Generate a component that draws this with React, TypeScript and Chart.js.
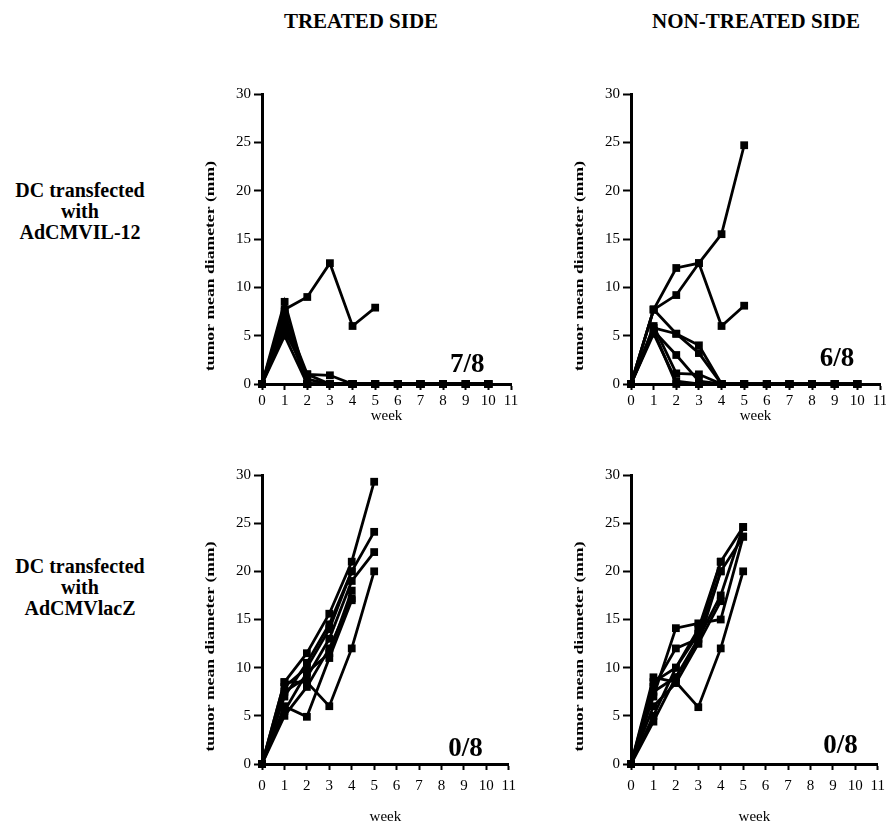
import React, { useEffect, useRef } from "react";
import { Chart, registerables } from "chart.js";

Chart.register(...registerables);

const FONT = "'Liberation Serif', 'Times New Roman', serif";

// ---- data ----
const weeks = [0, 1, 2, 3, 4, 5, 6, 7, 8, 9, 10];
const xTickValues = [0, 1, 2, 3, 4, 5, 6, 7, 8, 9, 10, 11];
const yTickValues = [0, 5, 10, 15, 20, 25, 30];

const columnTitles = ["TREATED SIDE", "NON-TREATED SIDE"];
const rowTitleIL12 = ["DC transfected", "with", "AdCMVIL-12"];
const rowTitleLacZ = ["DC transfected", "with", "AdCMVlacZ"];
const yAxisTitle = "tumor mean diameter (mm)";
const xAxisTitle = "week";
const curedLabels = ["7/8", "6/8", "0/8", "0/8"];

// Treated side, DC + AdCMVIL-12 (one array per mouse)
const treatedIL12 = [
  [0, 7.7, 9, 12.5, 6, 7.9],
  [0, 8.5, 0, 0, 0, 0, 0, 0, 0, 0, 0],
  [0, 7, 1, 0.9, 0, 0, 0, 0, 0, 0, 0],
  [0, 6.5, 0, 0, 0, 0, 0, 0, 0, 0, 0],
  [0, 5.5, 1, 0, 0, 0, 0, 0, 0, 0, 0],
  [0, 5, 0, 0, 0, 0, 0, 0, 0, 0, 0],
  [0, 6, 0.5, 0, 0, 0, 0, 0, 0, 0, 0],
  [0, 7.5, 0, 0, 0, 0, 0, 0, 0, 0, 0],
];

// Non-treated side, DC + AdCMVIL-12
const nonTreatedIL12 = [
  [0, 7.7, 12, 12.5, 15.5, 24.7],
  [0, 7.7, 9.2, 12.5, 6, 8.1],
  [0, 7.7, 5.2, 3.2, 0, 0, 0, 0, 0, 0, 0],
  [0, 5.8, 5.2, 4, 0, 0, 0, 0, 0, 0, 0],
  [0, 5.5, 3, 0.3, 0, 0, 0, 0, 0, 0, 0],
  [0, 6, 1.1, 1, 0, 0, 0, 0, 0, 0, 0],
  [0, 5.5, 0, 0, 0, 0, 0, 0, 0, 0, 0],
  [0, 5.2, 0.3, 0, 0, 0, 0, 0, 0, 0, 0],
];

// Treated side, DC + AdCMVlacZ
const treatedLacZ = [
  [0, 8.5, 11.5, 15.6, 21, 29.3],
  [0, 8, 10, 14, 20, 24.1],
  [0, 7.5, 9, 13, 19, 22],
  [0, 8.5, 8.5, 6, 12, 20],
  [0, 6, 4.9, 11, 17],
  [0, 5, 8, 12, 17.2],
  [0, 7, 10.5, 14.5, 20],
  [0, 5.5, 9.5, 11.5, 18],
];

// Non-treated side, DC + AdCMVlacZ
const nonTreatedLacZ = [
  [0, 9, 8.5, 5.9, 12, 20],
  [0, 7, 14.1, 14.6, 15, 23.6],
  [0, 8, 12, 13, 17.5, 24.6],
  [0, 5, 10, 13.5, 21, 24.6],
  [0, 4.4, 9, 12.5, 20, 23.6],
  [0, 6, 8.4, 12.5, 16.9],
  [0, 8.5, 10, 14, 21],
  [0, 7.5, 9, 13, 20],
];

// ---- layout (styles / positions only) ----
type Panel = {
  series: number[][];
  cured: string;
  curedAt: [number, number];
  area: { left: number; top: number; right: number; bottom: number };
  xScaleH: number;
  tickPad: number;
};

const Y_SCALE_W = 62;
const PAD_T = 12;
const PAD_R = 12;

const panels: Panel[] = [
  { series: treatedIL12, cured: curedLabels[0], curedAt: [9.07, 2.0], area: { left: 262, top: 94, right: 511, bottom: 384 }, xScaleH: 46, tickPad: 2 },
  { series: nonTreatedIL12, cured: curedLabels[1], curedAt: [9.1, 2.6], area: { left: 631, top: 94, right: 880, bottom: 384 }, xScaleH: 46, tickPad: 2 },
  { series: treatedLacZ, cured: curedLabels[2], curedAt: [9.07, 1.6], area: { left: 262, top: 475, right: 511, bottom: 764 }, xScaleH: 67, tickPad: 7 },
  { series: nonTreatedLacZ, cured: curedLabels[3], curedAt: [9.34, 1.9], area: { left: 631, top: 475, right: 880, bottom: 764 }, xScaleH: 67, tickPad: 7 },
];

function PanelChart({ cfg }: { cfg: Panel }) {
  const ref = useRef<HTMLCanvasElement>(null);
  const a = cfg.area;
  const w = a.right - a.left + Y_SCALE_W + PAD_R;
  const h = a.bottom - a.top + PAD_T + cfg.xScaleH;

  useEffect(() => {
    if (!ref.current) return;
    const textPlugin = {
      id: "panelText",
      afterDraw(chart: any) {
        const { ctx, chartArea, scales } = chart;
        ctx.save();
        ctx.fillStyle = "#000";
        ctx.font = `bold 13px ${FONT}`;
        const tw = ctx.measureText(yAxisTitle).width;
        ctx.translate(chartArea.left - 51, (chartArea.top + chartArea.bottom) / 2 + 27);
        ctx.rotate(-Math.PI / 2);
        ctx.scale(210 / tw, 1);
        ctx.textAlign = "center";
        ctx.textBaseline = "middle";
        ctx.fillText(yAxisTitle, 0, 0);
        ctx.restore();

        ctx.save();
        ctx.fillStyle = "#000";
        ctx.font = `bold 27px ${FONT}`;
        ctx.textAlign = "center";
        ctx.textBaseline = "middle";
        ctx.fillText(cfg.cured, scales.x.getPixelForValue(cfg.curedAt[0]), scales.y.getPixelForValue(cfg.curedAt[1]));
        ctx.restore();
      },
    };

    const chart = new Chart(ref.current, {
      type: "line",
      data: {
        datasets: cfg.series.map((vals) => ({
          data: vals.map((v, i) => ({ x: weeks[i], y: v })),
          borderColor: "#000",
          backgroundColor: "#000",
          borderWidth: 2.8,
          pointStyle: "rect",
          pointRadius: 5.5,
          pointBorderWidth: 0,
          pointBackgroundColor: "#000",
          tension: 0,
          clip: false as any,
        })),
      },
      options: {
        animation: false,
        responsive: false,
        devicePixelRatio: 1,
        events: [],
        layout: { padding: { left: 0, top: PAD_T, right: PAD_R, bottom: 0 } },
        plugins: { legend: { display: false }, tooltip: { enabled: false } },
        scales: {
          x: {
            type: "linear",
            min: 0,
            max: 11,
            afterFit: (s: any) => { s.height = cfg.xScaleH; },
            afterBuildTicks: (s: any) => { s.ticks = xTickValues.map((v) => ({ value: v })); },
            ticks: { autoSkip: false, maxRotation: 0, font: { family: FONT, size: 15 }, color: "#000", padding: cfg.tickPad },
            grid: { drawOnChartArea: false, drawTicks: true, tickLength: 6, tickColor: "#000", tickWidth: 2 },
            border: { display: true, color: "#000", width: 3 },
            title: { display: true, text: xAxisTitle, font: { family: FONT, size: 15 }, color: "#000", padding: { top: 0, bottom: 5 } },
          },
          y: {
            type: "linear",
            min: 0,
            max: 30,
            afterFit: (s: any) => { s.width = Y_SCALE_W; },
            afterBuildTicks: (s: any) => { s.ticks = yTickValues.map((v) => ({ value: v })); },
            ticks: { font: { family: FONT, size: 15 }, color: "#000", padding: 3 },
            grid: { drawOnChartArea: false, drawTicks: true, tickLength: 8, tickColor: "#000", tickWidth: 2 },
            border: { display: true, color: "#000", width: 3 },
          },
        },
      } as any,
      plugins: [textPlugin],
    });
    return () => chart.destroy();
  }, []);

  return (
    <canvas
      ref={ref}
      width={w}
      height={h}
      style={{ position: "absolute", left: a.left - Y_SCALE_W, top: a.top - PAD_T, width: w, height: h }}
    />
  );
}

const textStyle: React.CSSProperties = {
  position: "absolute",
  fontFamily: FONT,
  fontWeight: "bold",
  color: "#000",
  whiteSpace: "nowrap",
  transform: "translate(-50%, -50%)",
  lineHeight: 1,
};

function RowTitle({ lines, top }: { lines: string[]; top: number }) {
  return (
    <>
      {lines.map((t, i) => (
        <div key={i} style={{ ...textStyle, left: 80, top: top + i * 21, fontSize: 20 }}>{t}</div>
      ))}
    </>
  );
}

export default function App() {
  return (
    <div style={{ position: "absolute", left: 0, top: 0, width: 886, height: 821, overflow: "hidden", background: "#fff" }}>
      <div style={{ ...textStyle, left: 361, top: 21, fontSize: 21 }}>{columnTitles[0]}</div>
      <div style={{ ...textStyle, left: 756, top: 21, fontSize: 21 }}>{columnTitles[1]}</div>
      <RowTitle lines={rowTitleIL12} top={190} />
      <RowTitle lines={rowTitleLacZ} top={566} />
      {panels.map((p, i) => (
        <PanelChart key={i} cfg={p} />
      ))}
    </div>
  );
}
